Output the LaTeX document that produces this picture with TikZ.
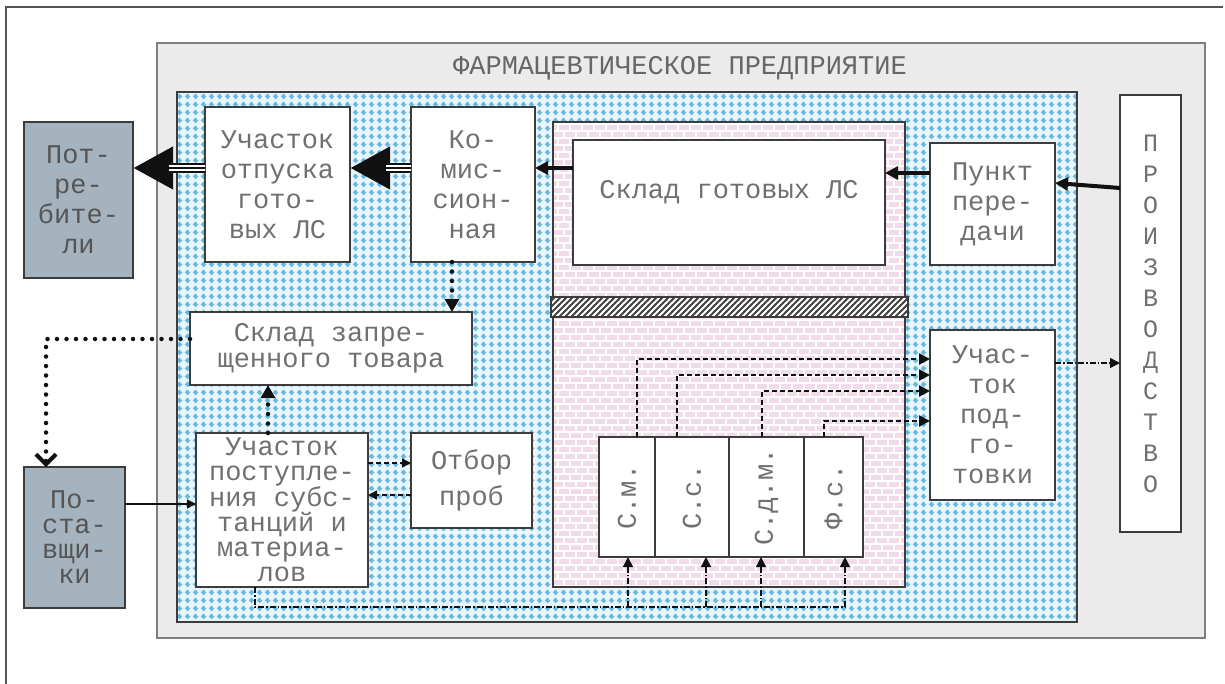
\documentclass[tikz,border=0pt]{standalone}
\usepackage{fontspec}
\usepackage{graphicx}
\newfontfamily\monofnt{Liberation Mono}
\usetikzlibrary{arrows.meta,patterns,calc}

\definecolor{txt}{HTML}{707070}
\definecolor{frm}{HTML}{555555}
\definecolor{entfill}{HTML}{EBEBEB}
\definecolor{entline}{HTML}{7F7F7F}
\definecolor{bluebase}{HTML}{E8F7FD}
\definecolor{bluedot}{HTML}{68B8E0}
\definecolor{pinkbase}{HTML}{F0DCE8}
\definecolor{slate}{HTML}{A4B3BE}
\definecolor{boxline}{HTML}{3C3C3C}
\definecolor{hatchc}{HTML}{444444}
\definecolor{arr}{HTML}{111111}

\pgfdeclarepatternformonly{bluediam}{\pgfqpoint{0pt}{0pt}}{\pgfqpoint{8pt}{8pt}}{\pgfqpoint{8pt}{8pt}}{%
  \pgfpathmoveto{\pgfqpoint{4pt}{0.9pt}}%
  \pgfpathlineto{\pgfqpoint{7.1pt}{4pt}}%
  \pgfpathlineto{\pgfqpoint{4pt}{7.1pt}}%
  \pgfpathlineto{\pgfqpoint{0.9pt}{4pt}}%
  \pgfpathclose\pgfusepath{fill}}

\pgfdeclarepatternformonly{bricksw}{\pgfqpoint{-1pt}{-1pt}}{\pgfqpoint{13pt}{15pt}}{\pgfqpoint{12pt}{14pt}}{%
  \pgfsetlinewidth{1.1pt}%
  \pgfpathmoveto{\pgfqpoint{-1pt}{0pt}}\pgfpathlineto{\pgfqpoint{13pt}{0pt}}%
  \pgfpathmoveto{\pgfqpoint{-1pt}{7pt}}\pgfpathlineto{\pgfqpoint{13pt}{7pt}}%
  \pgfpathmoveto{\pgfqpoint{0pt}{0pt}}\pgfpathlineto{\pgfqpoint{0pt}{7pt}}%
  \pgfpathmoveto{\pgfqpoint{6pt}{7pt}}\pgfpathlineto{\pgfqpoint{6pt}{14pt}}%
  \pgfusepath{stroke}}

\pgfdeclarepatternformonly{hatchne}{\pgfqpoint{-1pt}{-1pt}}{\pgfqpoint{7pt}{7pt}}{\pgfqpoint{6pt}{6pt}}{%
  \pgfsetlinewidth{1.8pt}%
  \pgfpathmoveto{\pgfqpoint{-1pt}{-1pt}}\pgfpathlineto{\pgfqpoint{7pt}{7pt}}%
  \pgfusepath{stroke}}

\begin{document}
\begin{tikzpicture}[x=1pt,y=-1pt,
  every node/.style={inner sep=0pt, outer sep=0pt},
  txtfont/.style={font=\monofnt\fontsize{27}{30}\selectfont, text=txt},
  region/.style={anchor=north west},
  box/.style={draw=boxline, line width=1.8pt, fill=white, anchor=north west, align=center, txtfont},
  ext/.style={box, fill=slate, text=frm},
  bigarr/.style={draw=arr, line width=10pt, -{Triangle[length=40pt,width=40pt]},
    postaction={draw=white, line width=6pt, -, shorten >=36pt},
    postaction={draw=arr, line width=1.6pt, -, shorten >=36pt}},
  thickarr/.style={draw=arr, line width=4pt, -{Triangle[length=13pt,width=13pt]}},
  dotline/.style={draw=arr, line width=4.5pt, line cap=round, dash pattern=on 0pt off 9.5pt},
  dotarr/.style={dotline, -{Triangle[length=13pt,width=14pt]}},
  thinarr/.style={draw=arr, line width=1.5pt, -{Triangle[length=9pt,width=9pt]}},
  dasharr/.style={draw=arr, line width=1.6pt, dash pattern=on 5pt off 3pt, -{Triangle[length=9pt,width=9pt]}},
  dashmed/.style={draw=arr, line width=2.2pt, dash pattern=on 5pt off 3pt, -{Triangle[length=11pt,width=11pt]}},
  dashdot/.style={draw=arr, line width=1.4pt, dash pattern=on 6pt off 2pt on 1.5pt off 2pt},
  dashdotarr/.style={dashdot, -{Triangle[length=10pt,width=10pt]}}
]
\useasboundingbox (0,0) rectangle (1225,684);
\fill[white] (0,0) rectangle (1225,684);
\draw[frm, line width=1.6pt] (6,684) -- (6,7) -- (1223,7);

% regions
\node[region, fill=entfill, draw=entline, line width=2pt, minimum width=1048pt, minimum height=595pt] (ent) at (157,43) {};
\node[txtfont, text=frm!90] (title) at (680,68) {ФАРМАЦЕВТИЧЕСКОЕ ПРЕДПРИЯТИЕ};
\node[region, preaction={fill=bluebase}, pattern=bluediam, pattern color=bluedot, draw=boxline, line width=1.2pt, minimum width=900pt, minimum height=530pt] (plant) at (177,92) {};
\node[region, preaction={fill=pinkbase}, pattern=bricksw, pattern color=white, draw=boxline, line width=1.8pt, minimum width=352pt, minimum height=465pt] (store) at (553,122) {};
\node[region, preaction={fill=white}, pattern=hatchne, pattern color=hatchc, draw=boxline, line width=1.8pt, minimum width=357pt, minimum height=20pt] (wall) at (551,297) {};

% boxes
\node[ext, minimum width=109pt, minimum height=156pt] (potr) at (24,122) {Пот-\\ре-\\бите-\\ли};
\node[box, minimum width=145pt, minimum height=155pt] (otp) at (205,107) {Участок\\отпуска\\гото-\\вых ЛС};
\node[box, minimum width=124pt, minimum height=155pt] (kom) at (411,107) {Ко-\\мис-\\сион-\\ная};
\node[box, minimum width=312pt, minimum height=125pt] (skl) at (573,140) {Склад готовых ЛС\\[-4pt]\mbox{}};
\node[box, minimum width=125pt, minimum height=122pt] (pnk) at (930,143) {Пункт\\пере-\\дачи};
\node[box, minimum width=61pt, minimum height=437pt, font=\monofnt\fontsize{25}{31}\selectfont] (prz) at (1120,95) {П\\Р\\О\\И\\З\\В\\О\\Д\\С\\Т\\В\\О};
\node[box, minimum width=282pt, minimum height=73pt, font=\monofnt\fontsize{27}{26}\selectfont] (zpr) at (190,312) {Склад запре-\\щенного товара};
\node[box, minimum width=172pt, minimum height=154pt, font=\monofnt\fontsize{27}{25}\selectfont] (pst) at (196,433) {Участок\\поступле-\\ния субс-\\танций и\\материа-\\лов};
\node[box, minimum width=121pt, minimum height=95pt, font=\monofnt\fontsize{27}{36}\selectfont] (otb) at (411,433) {Отбор\\проб};
\node[ext, minimum width=101pt, minimum height=141pt, font=\monofnt\fontsize{27}{25}\selectfont] (psv) at (24,467) {По-\\ста-\\вщи-\\ки};
\node[box, minimum width=56pt, minimum height=120pt] (cm) at (599,437) {\rotatebox{90}{С.м.}};
\node[box, minimum width=74pt, minimum height=120pt] (cs) at (655,437) {\rotatebox{90}{С.с.}};
\node[box, minimum width=75pt, minimum height=120pt] (cdm) at (729,437) {\rotatebox{90}{С.д.м.}};
\node[box, minimum width=59pt, minimum height=120pt] (cfs) at (804,437) {\rotatebox{90}{Ф.с.}};
\node[box, minimum width=125pt, minimum height=170pt] (pdg) at (930,330) {Учас-\\ток\\под-\\го-\\товки};

% helper coordinates
\coordinate (h168) at (0,168);
\coordinate (h173) at (0,173);
\coordinate (h183) at (0,183);
\coordinate (h188) at (0,188);
\coordinate (h339) at (0,339);
\coordinate (h504) at (0,504);
\coordinate (h463) at (0,463);
\coordinate (h495) at (0,495);
\coordinate (h359) at (0,359);
\coordinate (h375) at (0,375);
\coordinate (h391) at (0,391);
\coordinate (h421) at (0,421);
\coordinate (h363) at (0,363);
\coordinate (v452) at (452,0);
\coordinate (v268) at (268,0);
\coordinate (v46) at (46,0);
\coordinate (v255) at (255,0);
\coordinate (v637) at (637,0);
\coordinate (v677) at (677,0);
\coordinate (v762) at (762,0);
\coordinate (v824) at (824,0);
\coordinate (bend) at (845,607);
\coordinate (b1) at (628,607);
\coordinate (b2) at (706,607);
\coordinate (b3) at (761,607);

% connectors
\draw[bigarr] (kom.west |- h168) -- (otp.east |- h168);
\draw[bigarr] (otp.west |- h168) -- (potr.east |- h168);
\draw[thickarr] (skl.west |- h168) -- (kom.east |- h168);
\draw[thickarr] (pnk.west |- h173) -- (skl.east |- h173);
\draw[thickarr] (prz.west |- h188) -- (pnk.east |- h183);

\draw[dotarr] (v452 |- kom.south) -- (v452 |- zpr.north);
\draw[dotarr] (v268 |- pst.north) -- (v268 |- zpr.south);
\draw[dotline, -{Straight Barb[length=10pt,width=20pt,line width=4pt]}] (zpr.west |- h339) -| (v46 |- psv.north);

\draw[thinarr] (psv.east |- h504) -- (pst.west |- h504);
\draw[dasharr] (pst.east |- h463) -- (otb.west |- h463);
\draw[dasharr] (otb.west |- h495) -- (pst.east |- h495);

\draw[dashdot] (v255 |- pst.south) |- (bend);
\draw[dashdotarr] (b1) -- (b1 |- cm.south);
\draw[dashdotarr] (b2) -- (b2 |- cs.south);
\draw[dashdotarr] (b3) -- (b3 |- cdm.south);
\draw[dashdotarr] (bend) -- (bend |- cfs.south);

\draw[dashmed] (v637 |- cm.north) |- (pdg.west |- h359);
\draw[dashmed] (v677 |- cs.north) |- (pdg.west |- h375);
\draw[dashmed] (v762 |- cdm.north) |- (pdg.west |- h391);
\draw[dashmed] (v824 |- cfs.north) |- (pdg.west |- h421);

\draw[dashdotarr] (pdg.east |- h363) -- (prz.west |- h363);
\end{tikzpicture}
\end{document}
